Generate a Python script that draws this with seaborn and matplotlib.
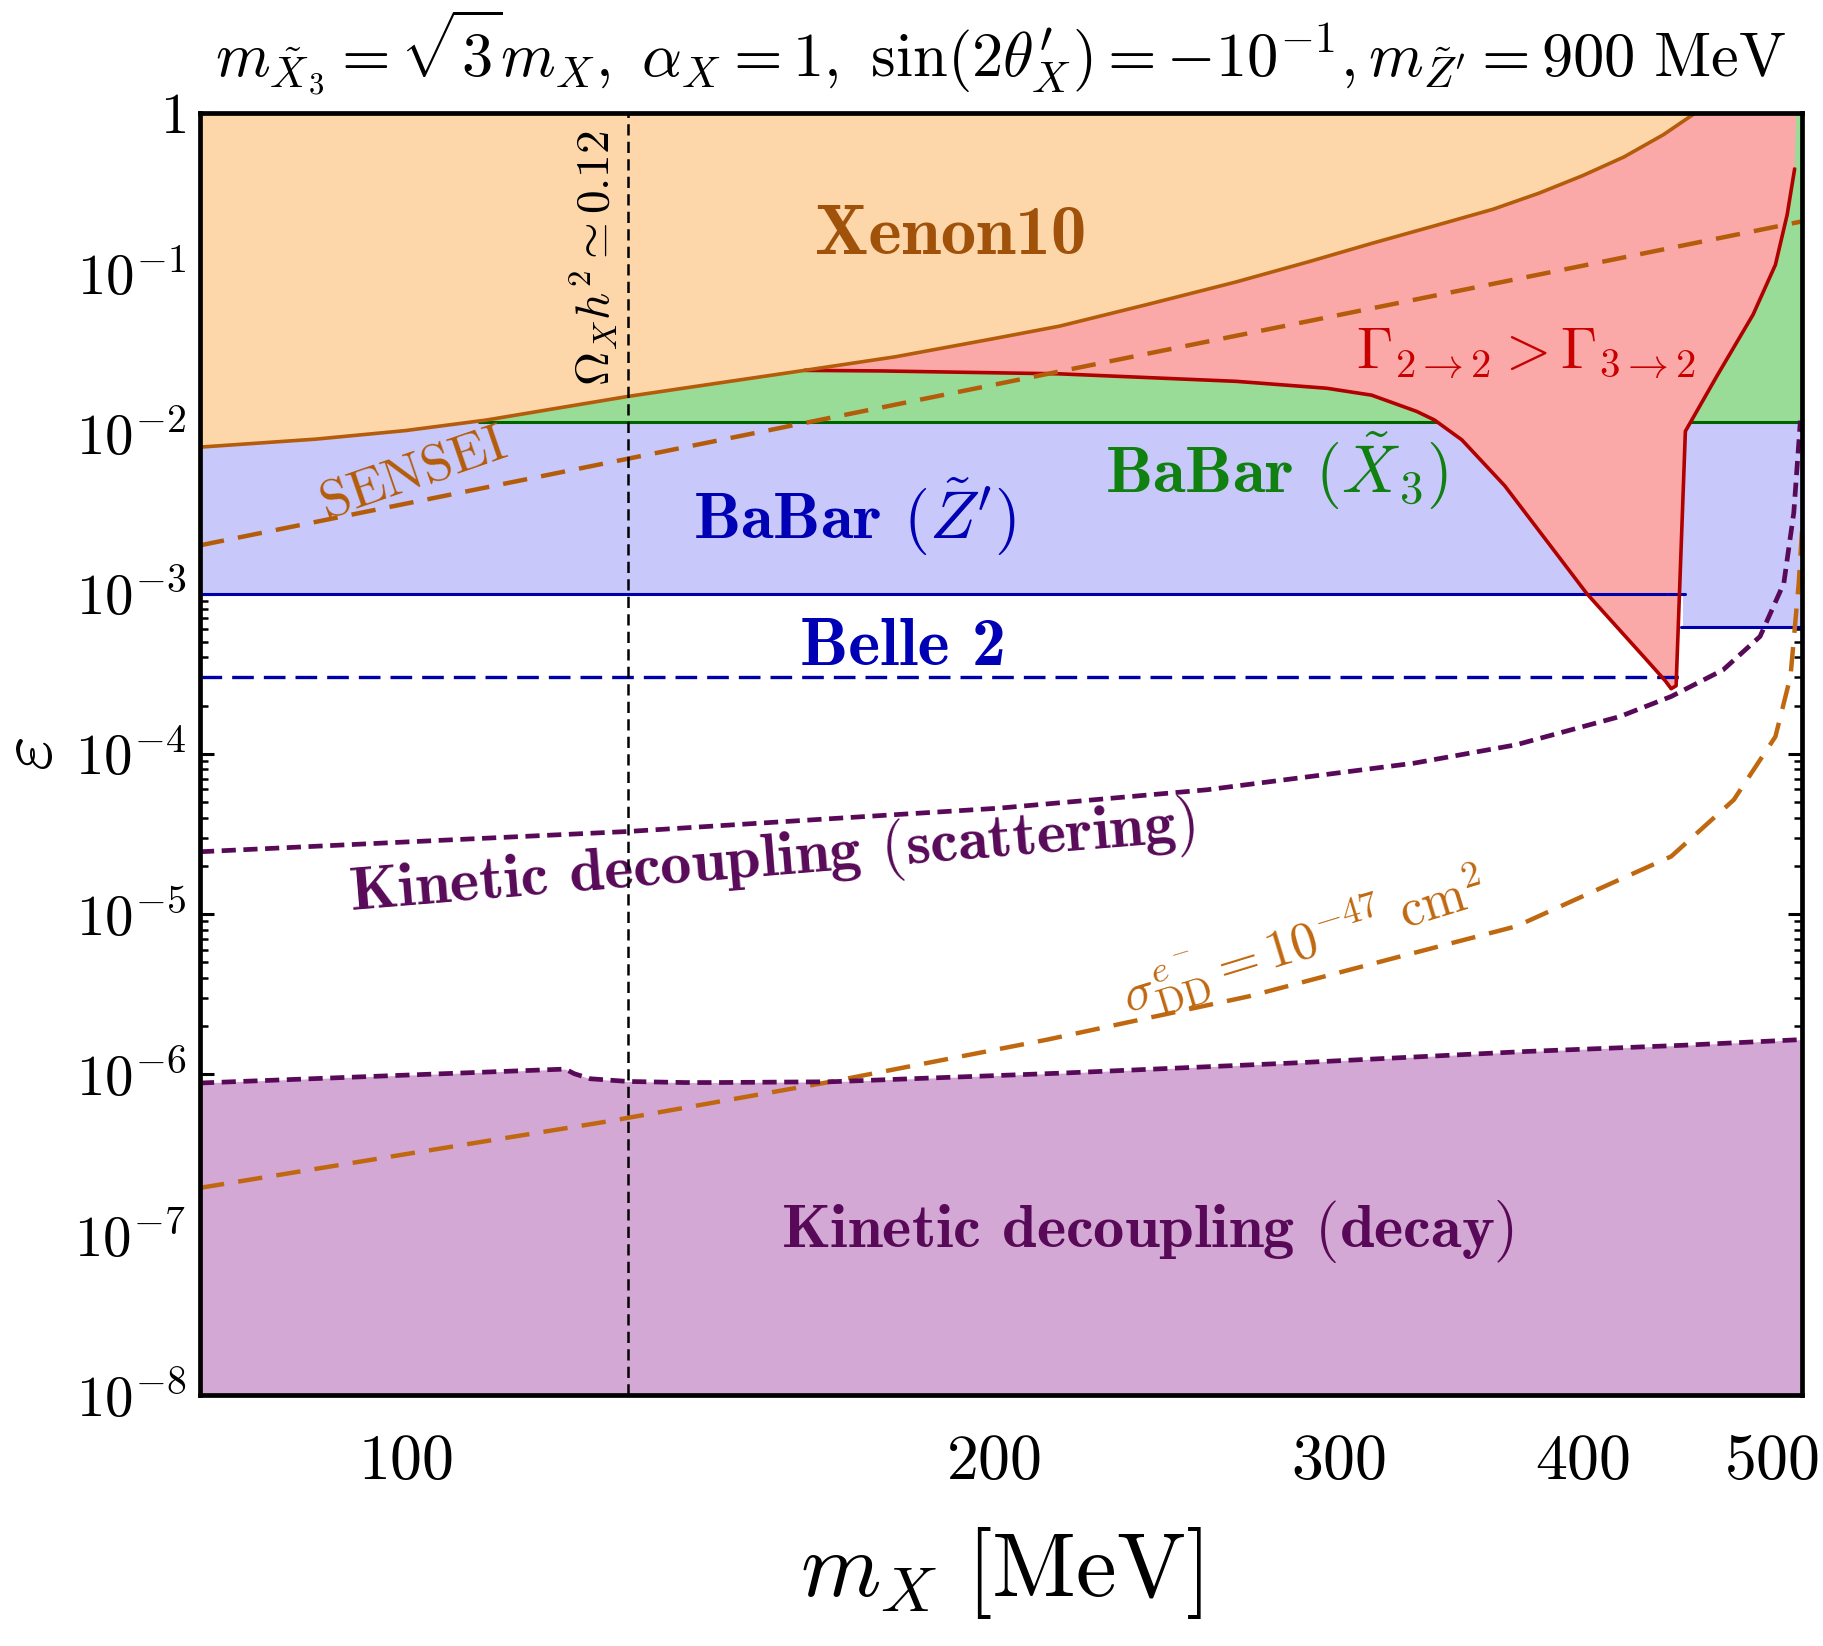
import numpy as np
import pandas as pd
import matplotlib
matplotlib.use("Agg")
import matplotlib.pyplot as plt
from matplotlib.ticker import NullLocator, LogLocator, NullFormatter
import seaborn as sns

# axis ranges
x_lim = [78.5, 518.0]
y_lim = [1e-8, 1.0]

# Xenon10 bound
xenon_x = [78.5, 90, 100, 110, 120, 130, 145, 160, 178, 200, 216, 240, 266, 290,
           312, 335, 360, 380, 400, 420, 440, 457, 462]
xenon_y = [8.2e-3, 9.2e-3, 0.0104, 0.0121, 0.01445, 0.0170, 0.0207, 0.0247, 0.030,
           0.039, 0.0466, 0.064, 0.088, 0.118, 0.153, 0.195, 0.25, 0.315, 0.405,
           0.53, 0.73, 1.0, 1.1]

# Gamma_{2->2} > Gamma_{3->2} boundary
red_x = [160, 175, 216, 266, 296, 312, 329, 336, 347, 365, 385, 402, 431, 441,
         444, 446.6, 451.5, 468.7, 489, 502, 509, 513.5]
red_y = [0.0247, 0.0245, 0.0235, 0.0211, 0.0191, 0.0173, 0.0137, 0.0121, 0.0091,
         4.7e-3, 2.0e-3, 1.0e-3, 3.9e-4, 2.85e-4, 2.55e-4, 2.66e-4, 0.0103,
         0.0229, 0.0551, 0.1125, 0.231, 0.446]

# BaBar (X3) and BaBar (Z') limits, Belle 2 projection
babar_x3_eps = 0.0118
babar_x3_start = 109
babar_z_x = [78.5, 450, 450, 518]
babar_z_y = [1e-3, 1e-3, 6.2e-4, 6.2e-4]
belle_x = [78.5, 451]
belle_eps = 3e-4

# SENSEI
sensei_x = [78.5, 130, 518]
sensei_y = [2.0e-3, 6.95e-3, 0.21]

# sigma_DD = 1e-47 cm^2
sigma_x = [78.5, 100, 127, 165, 213, 270, 320, 370, 410, 444, 478, 502, 511, 516, 518]
sigma_y = [1.96e-7, 3.18e-7, 5.1e-7, 9.0e-7, 1.65e-6, 3.07e-6, 5.3e-6, 8.4e-6,
           1.48e-5, 2.29e-5, 5.17e-5, 1.28e-4, 3.04e-4, 1.16e-3, 2.5e-3]

# kinetic decoupling (scattering)
scat_x = [78.5, 100, 130, 160, 201, 257, 328, 370, 418, 444, 472, 493, 507, 513, 517]
scat_y = [2.45e-5, 2.82e-5, 3.28e-5, 3.85e-5, 4.58e-5, 5.97e-5, 8.75e-5, 1.14e-4,
          1.71e-4, 2.28e-4, 3.34e-4, 5.4e-4, 1.16e-3, 3.2e-3, 1.2e-2]

# kinetic decoupling (decay)
decay_x = [78.5, 100, 120.7, 122.0, 124.3, 129.9, 139, 144, 165, 217, 285, 374, 450, 518]
decay_y = [8.84e-7, 9.9e-7, 1.08e-6, 1.01e-6, 9.4e-7, 9.04e-7, 8.9e-7, 8.9e-7,
           9.0e-7, 1.02e-6, 1.18e-6, 1.39e-6, 1.52e-6, 1.65e-6]

# relic abundance line
omega_x = 130

x_ticks = [100, 200, 300, 400, 500]
x_tick_labels = ["$100$", "$200$", "$300$", "$400$", "$500$"]
y_ticks = [1e-8, 1e-7, 1e-6, 1e-5, 1e-4, 1e-3, 1e-2, 1e-1, 1]
y_tick_labels = [r"$10^{-8}$", r"$10^{-7}$", r"$10^{-6}$", r"$10^{-5}$", r"$10^{-4}$",
                 r"$10^{-3}$", r"$10^{-2}$", r"$10^{-1}$", r"$1$"]

sns.set_theme(style="ticks")
plt.rcParams["font.family"] = "serif"
plt.rcParams["font.serif"] = ["cmr10", "DejaVu Serif"]
plt.rcParams["mathtext.fontset"] = "cm"
plt.rcParams["axes.formatter.use_mathtext"] = True
plt.rcParams["axes.unicode_minus"] = False
plt.rcParams["text.color"] = "black"
plt.rcParams["axes.labelcolor"] = "black"
plt.rcParams["xtick.color"] = "black"
plt.rcParams["ytick.color"] = "black"

c_xen_fill, c_xen = "#fdd6aa", "#b45c0a"
c_red_fill, c_red = "#faa8a8", "#b00000"
c_grn_fill, c_grn = "#98dc98", "#006400"
c_blu_fill, c_blu = "#c8c8fa", "#0000aa"
c_pur_fill, c_pur = "#d4a8d4", "#580a58"
bold = ["cmb10", "DejaVu Serif"]

fig = plt.figure(figsize=(9.115, 8.23), dpi=200)
ax = fig.add_axes([0.1097, 0.1525, 0.8788, 0.779])
ax.set_xscale("log")
ax.set_yscale("log")
ax.set_xlim(x_lim)
ax.set_ylim(y_lim)

# filled regions
ax.fill_between(babar_z_x, babar_z_y, 1.0, color=c_blu_fill, lw=0, zorder=1)
ax.fill_between([babar_x3_start, x_lim[1]], babar_x3_eps, 1.0, color=c_grn_fill, lw=0, zorder=1.1)
sns.lineplot(x=[babar_x3_start, x_lim[1]], y=[babar_x3_eps, babar_x3_eps], color=c_grn,
             lw=1.1, ax=ax, zorder=1.2)
ax.fill_between(xenon_x, xenon_y, 1.5, color=c_xen_fill, lw=0, zorder=1.3)
red_poly_x = red_x + [515, 457] + xenon_x[7:21][::-1]
red_poly_y = red_y + [1.5, 1.0] + xenon_y[7:21][::-1]
ax.fill(red_poly_x, red_poly_y, color=c_red_fill, lw=0, zorder=1.4)
ax.fill_between(decay_x, 1e-9, decay_y, color=c_pur_fill, lw=0, zorder=1.5)

# lines
sns.lineplot(x=babar_z_x[:2] + [451.5], y=babar_z_y[:2] + [1e-3], color=c_blu, lw=1.1,
             ax=ax, zorder=3)
sns.lineplot(x=[449, 518], y=babar_z_y[2:], color=c_blu, lw=1.1, ax=ax, zorder=3)
sns.lineplot(x=belle_x, y=[belle_eps, belle_eps], color=c_blu, lw=1.2,
             linestyle=(0, (6.5, 3.0)), ax=ax, zorder=3)
sns.lineplot(x=red_x, y=red_y, sort=False, estimator=None, color=c_red, lw=1.3, ax=ax, zorder=3.2)
sns.lineplot(x=xenon_x, y=xenon_y, sort=False, estimator=None, color=c_xen, lw=1.3, ax=ax, zorder=3.3)
sns.lineplot(x=sensei_x, y=sensei_y, color=c_xen, lw=1.6, linestyle=(0, (5.5, 3.2)),
             ax=ax, zorder=3.4)
sns.lineplot(x=sigma_x, y=sigma_y, sort=False, estimator=None, color="#c06810", lw=1.6,
             linestyle=(0, (5.5, 3.2)), ax=ax, zorder=3.4)
sns.lineplot(x=scat_x, y=scat_y, sort=False, estimator=None, color=c_pur, lw=1.7,
             linestyle=(0, (3.0, 1.6)), ax=ax, zorder=3.5)
sns.lineplot(x=decay_x, y=decay_y, sort=False, estimator=None, color=c_pur, lw=1.7,
             linestyle=(0, (3.0, 1.6)), ax=ax, zorder=3.5)
ax.axvline(omega_x, color="black", lw=0.9, linestyle=(0, (4.5, 2.5)), zorder=4)

# labels in the plot
ax.text(190, 0.17, "Xenon10", family=bold, color="#a0520a", fontsize=25.5,
        ha="center", va="center")
ax.text(169.7, 3.0e-3, r"BaBar $(\tilde{Z}^{\prime})$", family=bold, color="#0000b4",
        fontsize=24, ha="center", va="center")
ax.text(279, 5.8e-3, r"BaBar $(\tilde{X}_3)$", family=bold, color="#108010",
        fontsize=24, ha="center", va="center")
ax.text(179.7, 4.6e-4, "Belle 2", family=bold, color="#0000b4", fontsize=24.5,
        ha="center", va="center")
ax.text(374, 0.031, r"$\Gamma_{2\to 2}>\Gamma_{3\to 2}$", color="#c80000", fontsize=21,
        ha="center", va="center")
ax.text(101, 5.5e-3, r"$\mathrm{SENSEI}$", color=c_xen, fontsize=19.5, rotation=19,
        ha="center", va="center")
ax.text(154, 2.17e-5, r"Kinetic decoupling $($scattering$)$", family=bold, color=c_pur,
        fontsize=22.5, rotation=4.7, ha="center", va="center")
ax.text(239.6, 1.04e-7, r"Kinetic decoupling $($decay$)$", family=bold, color=c_pur,
        fontsize=22.5, ha="center", va="center")
ax.text(288, 6.6e-6, r"$\sigma^{e^-}_{\rm DD}=10^{-47}\ {\rm cm}^2$", color="#c06810",
        fontsize=19, rotation=17, ha="center", va="center")
ax.text(124.7, 0.124, r"$\Omega_X h^2\simeq 0.12$", color="black", fontsize=17,
        rotation=90, ha="center", va="center")

# ticks and axes
ax.set_xticks(x_ticks, x_tick_labels)
ax.xaxis.set_minor_locator(NullLocator())
ax.set_yticks(y_ticks, y_tick_labels)
ax.yaxis.set_minor_locator(LogLocator(base=10, subs=np.arange(2, 10), numticks=20))
ax.yaxis.set_minor_formatter(NullFormatter())
ax.tick_params(axis="both", which="both", direction="in", top=True, right=True,
               colors="black")
ax.tick_params(axis="x", which="major", labelsize=23)
ax.tick_params(axis="y", which="major", labelsize=20.5)
ax.tick_params(axis="both", which="major", length=5, width=1.1)
ax.tick_params(axis="y", which="minor", length=3, width=0.9)
ax.tick_params(axis="x", which="major", pad=14)
ax.tick_params(axis="y", which="major", pad=5)
for sp in ax.spines.values():
    sp.set_linewidth(1.7)
    sp.set_color("black")
    sp.set_zorder(6)

ax.set_xlabel(r"$m_X\ [\mathrm{MeV}]$", fontsize=33, labelpad=12)
ax.set_ylabel(r"$\varepsilon$", fontsize=27, labelpad=3)

fig.text(0.549, 0.968, r"$m_{\tilde{X}_3}=\sqrt{3}m_X,\ \alpha_X=1,\ \sin(2\theta^{\prime}_X)=-10^{-1},m_{\tilde{Z}^{\prime}}=900\ \mathrm{MeV}$",
         fontsize=22.5, ha="center", va="center")

fig.savefig("out.png", dpi=200)
